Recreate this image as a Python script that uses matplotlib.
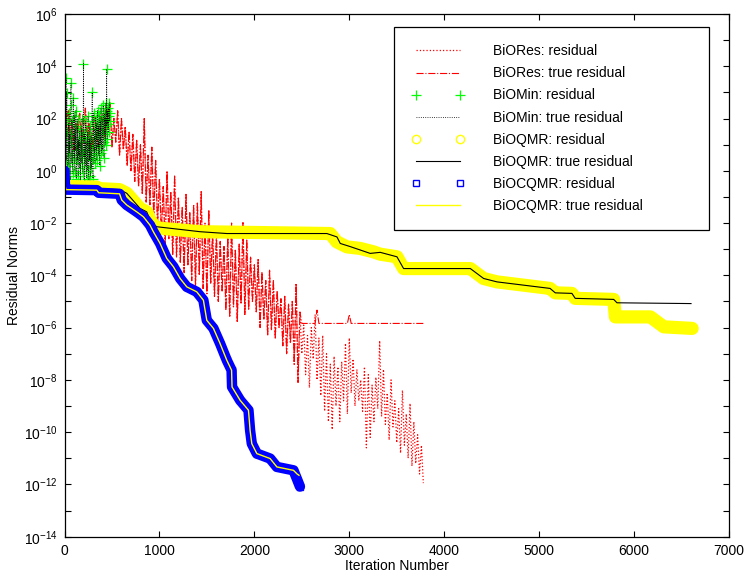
import numpy as np
import matplotlib
matplotlib.use('Agg')
import matplotlib.pyplot as plt

plt.rcParams['font.family'] = ['Liberation Sans', 'DejaVu Sans']
plt.rcParams['mathtext.fontset'] = 'custom'
plt.rcParams['mathtext.rm'] = 'Liberation Sans'
plt.rcParams['mathtext.it'] = 'Liberation Sans:italic'
plt.rcParams['mathtext.default'] = 'regular'
plt.rcParams['font.size'] = 10

# ---------------- data (log10 of residual norms) ----------------
# BiORes residual, sampled every 20 iterations from 0 to 3780
BIORES_STEP = 20
biores_res_log = [
    0.3, 1.8, 2.3, 1.2, 2.0, 0.8, 1.9, 1.5, 2.2, 0.9,
    1.6, 2.4, 1.0, 1.8, 0.6, 1.3, 2.1, 1.4, 0.7, 1.9,
    2.2, 1.2, 2.5, 1.6, 2.6, 0.9, 2.0, 1.1, 2.3, 0.6,
    2.0, 0.8, 1.7, 0.2, 1.5, 0.0, 1.4, -0.4, 1.2, -0.6,
    1.0, -0.9, 2.0, -1.2, 0.6, -1.3, 0.9, -1.8, 0.4, -2.1,
    -0.3, -2.4, -0.6, -2.9, 0.0, -2.6, -0.8, -3.2, -0.2, -3.3,
    -1.0, -3.5, -1.4, -3.9, -0.9, -3.6, -1.6, -4.2, -1.3, -4.4,
    -1.2, -4.0, -0.8, -4.5, -2.0, -4.7, -1.5, -4.3, -2.3, -4.8,
    -2.4, -5.0, -2.7, -4.6, -2.9, -5.3, -2.5, -5.6, -2.0, -5.2,
    -3.0, -5.8, -2.8, -5.1, -1.95, -5.5, -2.65, -5.3, -3.3, -5.0,
    -3.6, -5.4, -3.4, -6.0, -3.9, -5.7, -4.2, -6.3, -3.8, -6.1,
    -4.2, -6.4, -4.6, -6.0, -4.9, -6.7, -4.8, -7.0, -5.1, -6.6,
    -5.0, -7.4, -4.3, -8.1, -5.4, -7.0, -5.9, -7.8, -6.3, -8.3,
    -6.0, -7.2, -5.5, -8.0, -6.4, -8.6, -6.3, -9.2, -7.0, -9.6,
    -7.4, -9.9, -7.1, -9.0, -7.5, -9.6, -7.3, -8.8, -6.6, -9.3,
    -6.4, -8.5, -7.2, -9.0, -7.6, -8.8, -8.0, -9.2, -7.5, -10.6,
    -7.8, -10.2, -8.2, -9.6, -7.9, -9.1, -6.5, -9.4, -7.6, -9.7,
    -8.5, -10.3, -8.0, -9.8, -8.8, -10.4, -9.1, -10.8, -8.4, -10.5,
    -9.3, -11.0, -8.9, -11.3, -9.6, -11.2, -10.1, -11.6, -10.5, -11.95,
]
# BiORes true residual: follows the residual up to iteration 2480, then stagnates
biores_true_split = 2480
biores_true_tail_iter = [2500, 2640, 2660, 2680, 2980, 3000, 3020, 3780]
biores_true_tail_log = [-5.84, -5.84, -5.33, -5.84, -5.84, -5.5, -5.84, -5.84]

# BiOMin residual, sampled every 4 iterations from 0 to 480
BIOMIN_STEP = 4
biomin_res_log = [
    0.0, -0.3, 1.2, 2.0, 3.55, 0.4, 2.97, 1.5, -0.2, 0.9,
    1.8, 0.2, 2.2, 0.7, 1.4, -0.4, 2.5, 3.35, 1.1, 0.3,
    1.9, 0.6, -0.1, 2.78, 1.3, 0.5, 2.1, 0.0, 1.6, 0.8,
    2.3, -0.3, 1.0, 1.7, 0.4, 2.0, -0.2, 1.2, 0.6, 1.5,
    0.1, 1.1, -0.4, 0.9, 1.6, 0.3, 2.0, 0.7, -0.1, 1.3,
    4.1, 0.5, 1.4, -0.5, 0.8, 1.9, 0.2, 1.1, -0.3, 0.6,
    1.5, 0.0, 2.1, 0.9, -0.4, 1.2, 0.4, 1.7, -0.2, 0.8,
    1.3, 0.1, 1.9, 3.0, 0.5, -0.3, 1.0, 2.2, 0.7, 1.6,
    0.3, 1.2, 2.0, 0.8, 1.8, 0.4, 1.4, 2.3, 0.9, 1.7,
    0.6, 2.1, 1.3, 0.2, 1.9, 1.0, 2.4, 0.7, 1.5, 2.0,
    0.8, 1.6, 2.5, 1.1, 0.5, 2.2, 1.4, 2.0, 1.0, 2.6,
    1.7, 3.9, 1.2, 2.3, 1.8, 2.4, 1.5, 2.1, 2.6, 1.9,
    2.2,
]
biomin_true_log = biomin_res_log

# BiOQMR residual (breakpoints)
bioqmr_res_iter = [0, 340, 360, 580, 656, 796, 866, 901, 954, 1015, 1428, 2410,
                   2799, 2869, 2975, 3115, 3255, 3326, 3502, 3572, 4275, 4415,
                   4556, 5115, 5170, 5345, 5380, 5785, 5803, 6172, 6313, 6612]
bioqmr_res_log = [-0.6, -0.62, -0.68, -0.72, -0.86, -1.44, -1.57, -1.89, -2.14, -2.2,
                  -2.33, -2.38, -2.4, -2.72, -2.91, -2.97, -3.1, -3.19, -3.29, -3.74,
                  -3.74, -4.12, -4.25, -4.5, -4.67, -4.69, -4.88, -4.92, -5.59, -5.59,
                  -5.97, -6.03]
# BiOQMR true residual
bioqmr_true_iter = [0, 340, 360, 580, 656, 796, 866, 901, 954, 972, 1428, 1710, 2412,
                    2764, 2870, 2905, 3010, 3115, 3220, 3326, 3502, 3572, 4275, 4415,
                    4556, 5115, 5170, 5345, 5380, 5785, 5820, 6600]
bioqmr_true_log = [-0.6, -0.62, -0.68, -0.72, -0.86, -1.44, -1.57, -1.89, -2.1, -2.14,
                   -2.33, -2.4, -2.4, -2.4, -2.53, -2.78, -2.9, -3.03, -3.16, -3.12,
                   -3.29, -3.74, -3.74, -4.12, -4.25, -4.5, -4.67, -4.69, -4.88, -4.92,
                   -5.05, -5.08]

# BiOCQMR residual (breakpoints)
biocqmr_res_iter = [0, 5, 15, 340, 360, 580, 603, 656, 761, 831, 901, 936, 1007, 1077,
                    1147, 1218, 1288, 1393, 1463, 1499, 1569, 1639, 1710, 1760, 1765,
                    1850, 1938, 1955, 1973, 2026, 2166, 2237, 2412, 2454, 2480]
biocqmr_res_log = [0.0, -0.55, -0.72, -0.74, -0.84, -0.88, -1.12, -1.31, -1.57, -1.76,
                   -2.08, -2.33, -2.78, -3.35, -3.67, -4.12, -4.44, -4.63, -4.95, -5.72,
                   -6.03, -6.61, -7.25, -7.63, -8.27, -8.78, -9.16, -9.93, -10.44, -10.82,
                   -11.01, -11.33, -11.46, -11.84, -12.08]
# BiOCQMR true residual
biocqmr_true_iter = biocqmr_res_iter[:-2] + [2450, 2470]
biocqmr_true_log = biocqmr_res_log[:-2] + [-11.6, -11.65]

labels = ['BiORes: residual', 'BiORes: true residual', 'BiOMin: residual',
          'BiOMin: true residual', 'BiOQMR: residual', 'BiOQMR: true residual',
          'BiOCQMR: residual', 'BiOCQMR: true residual']

# ---------------- assemble ----------------
biores_iter = BIORES_STEP * np.arange(len(biores_res_log))
biores_res = 10.0 ** np.array(biores_res_log)
mask = biores_iter <= biores_true_split
biores_true_iter = np.concatenate([biores_iter[mask], biores_true_tail_iter])
biores_true = np.concatenate([biores_res[mask], 10.0 ** np.array(biores_true_tail_log)])

biomin_iter = BIOMIN_STEP * np.arange(len(biomin_res_log))
biomin_res = 10.0 ** np.array(biomin_res_log)
biomin_true = 10.0 ** np.array(biomin_true_log)

# ---------------- plot ----------------
fig = plt.figure(figsize=(7.47, 5.73), dpi=100)
ax = fig.add_axes([0.08635, 0.06335, 0.88956, 0.91222])
ax.set_yscale('log')

ax.plot(biores_iter, biores_res, color='red', ls=':', lw=0.9, label=labels[0])
ax.plot(biores_true_iter, biores_true, color='red', ls='-.', lw=0.8, label=labels[1])
ax.plot(biomin_iter, biomin_res, color='#00ff00', ls='none', marker='+', ms=6.5,
        mew=0.9, label=labels[2])
ax.plot(biomin_iter, biomin_true, color='black', ls=':', lw=0.6, label=labels[3])

ax.plot(bioqmr_res_iter, 10.0 ** np.array(bioqmr_res_log), color='yellow', lw=9.5,
        solid_capstyle='round', solid_joinstyle='round')
ax.plot(bioqmr_res_iter, 10.0 ** np.array(bioqmr_res_log), color='yellow', ls='none',
        marker='o', mfc='none', ms=6, label=labels[4])
ax.plot(bioqmr_true_iter, 10.0 ** np.array(bioqmr_true_log), color='black', lw=0.8,
        label=labels[5])

ax.plot(biocqmr_res_iter, 10.0 ** np.array(biocqmr_res_log), color='blue', lw=7.5,
        solid_capstyle='round', solid_joinstyle='round')
ax.plot(biocqmr_res_iter, 10.0 ** np.array(biocqmr_res_log), color='blue', ls='none',
        marker='s', mfc='none', ms=5, label=labels[6])
ax.plot(biocqmr_true_iter, 10.0 ** np.array(biocqmr_true_log), color='yellow', lw=1.0,
        label=labels[7])

ax.set_xlim(0, 7000)
ax.set_ylim(1e-14, 1e6)
ax.set_xticks(np.arange(0, 7001, 1000))
decades = np.arange(-14, 7)
ax.set_yticks(10.0 ** decades)
ax.set_yticklabels([r'$10^{%d}$' % d if d % 2 == 0 else '' for d in decades])
ax.yaxis.set_minor_locator(matplotlib.ticker.NullLocator())
ax.tick_params(direction='in', top=True, right=True, length=4, width=0.8,
               labelsize=10, pad=5)
for s in ax.spines.values():
    s.set_linewidth(0.9)
ax.set_xlabel('Iteration Number', fontsize=10, labelpad=1)
ax.set_ylabel('Residual Norms', fontsize=10, labelpad=2)

leg = ax.legend(loc='upper left', bbox_to_anchor=(394 / 747, (573 - 227) / 573,
                                                 (709 - 394) / 747, 200 / 573),
                bbox_transform=fig.transFigure, mode='expand', borderaxespad=0,
                numpoints=2, fancybox=False, framealpha=1, edgecolor='black',
                handlelength=3.8, handletextpad=2.05, labelspacing=0.58, borderpad=1.25,
                fontsize=10)
leg.get_frame().set_linewidth(0.9)

fig.savefig('out.png', dpi=100)
